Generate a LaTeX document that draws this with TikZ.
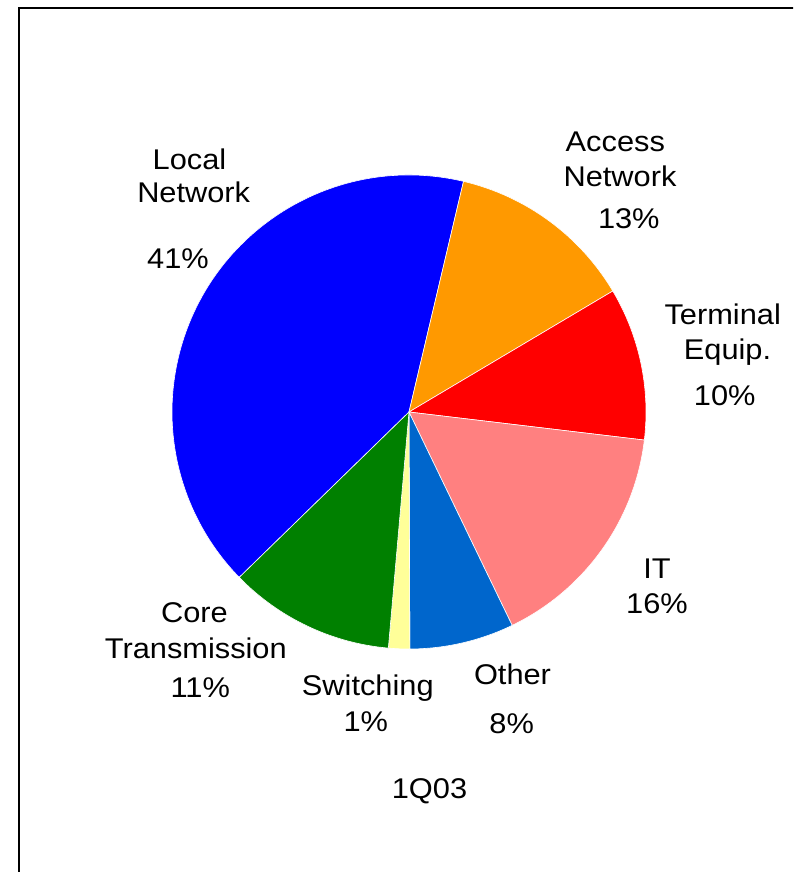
\documentclass[tikz,border=0pt]{standalone}
\usepackage{fontspec}
\setmainfont{Liberation Sans}[FakeStretch=1.08]
\begin{document}
\begin{tikzpicture}[x=1pt,y=-1pt,
  lbl/.style={anchor=base,inner sep=0pt,font=\fontsize{28.5}{34}\selectfont},
  slice/.style={draw=white,line width=0.6pt,line join=round}]
\definecolor{cLocal}{HTML}{0000FF}
\definecolor{cAccess}{HTML}{FF9900}
\definecolor{cTerm}{HTML}{FF0000}
\definecolor{cIT}{HTML}{FF8080}
\definecolor{cOther}{HTML}{0066CC}
\definecolor{cSwitch}{HTML}{FFFF99}
\definecolor{cCore}{HTML}{008000}
\useasboundingbox (0,0) rectangle (793,872);
\clip (0,0) rectangle (793,872);
% outer frame, running off the page on the right and bottom
\draw[line width=2.4pt] (19,900) -- (19,8) -- (900,8);
% pie centre and radius
\coordinate (c) at (409,412);
\def\R{237}
% slice: visual start angle, visual end angle, colour
\newcommand\pieslice[3]{%
  \filldraw[slice,fill=#3] (c) -- ++(-#1:\R) arc[start angle=-#1,end angle=-#2,radius=\R] -- cycle;}
\pieslice{76.7}{224.25}{cLocal}
\pieslice{30.7}{76.7}{cAccess}
\pieslice{-6.8}{30.7}{cTerm}
\pieslice{-64.2}{-6.8}{cIT}
\pieslice{-89.8}{-64.2}{cOther}
\pieslice{-95}{-89.8}{cSwitch}
\pieslice{224.25}{265}{cCore}
% labels
\node[lbl] (local1) at (189.5,169) {Local};
\node[lbl] (local2) at (193.7,202.7) {Network};
\node[lbl] (local3) at (178,268) {41\%};
\node[lbl] (acc1) at (615.3,151.7) {Access};
\node[lbl] (acc2) at (620,186.7) {Network};
\node[lbl] (acc3) at (628.8,228.3) {13\%};
\node[lbl] (term1) at (722.7,324) {Terminal};
\node[lbl] (term2) at (727.5,359.3) {Equip.};
\node[lbl] (term3) at (724.7,405) {10\%};
\node[lbl] (it1) at (657,578) {IT};
\node[lbl] (it2) at (657,613) {16\%};
\node[lbl] (oth1) at (512.5,684) {Other};
\node[lbl] (oth2) at (511.7,733.3) {8\%};
\node[lbl] (sw1) at (367.8,695) {Switching};
\node[lbl] (sw2) at (365.8,731.7) {1\%};
\node[lbl] (core1) at (194.5,622.7) {Core};
\node[lbl] (core2) at (195.8,658.7) {Transmission};
\node[lbl] (core3) at (200.3,697.7) {11\%};
\node[lbl] (period) at (429.5,798.3) {1Q03};
\end{tikzpicture}
\end{document}
